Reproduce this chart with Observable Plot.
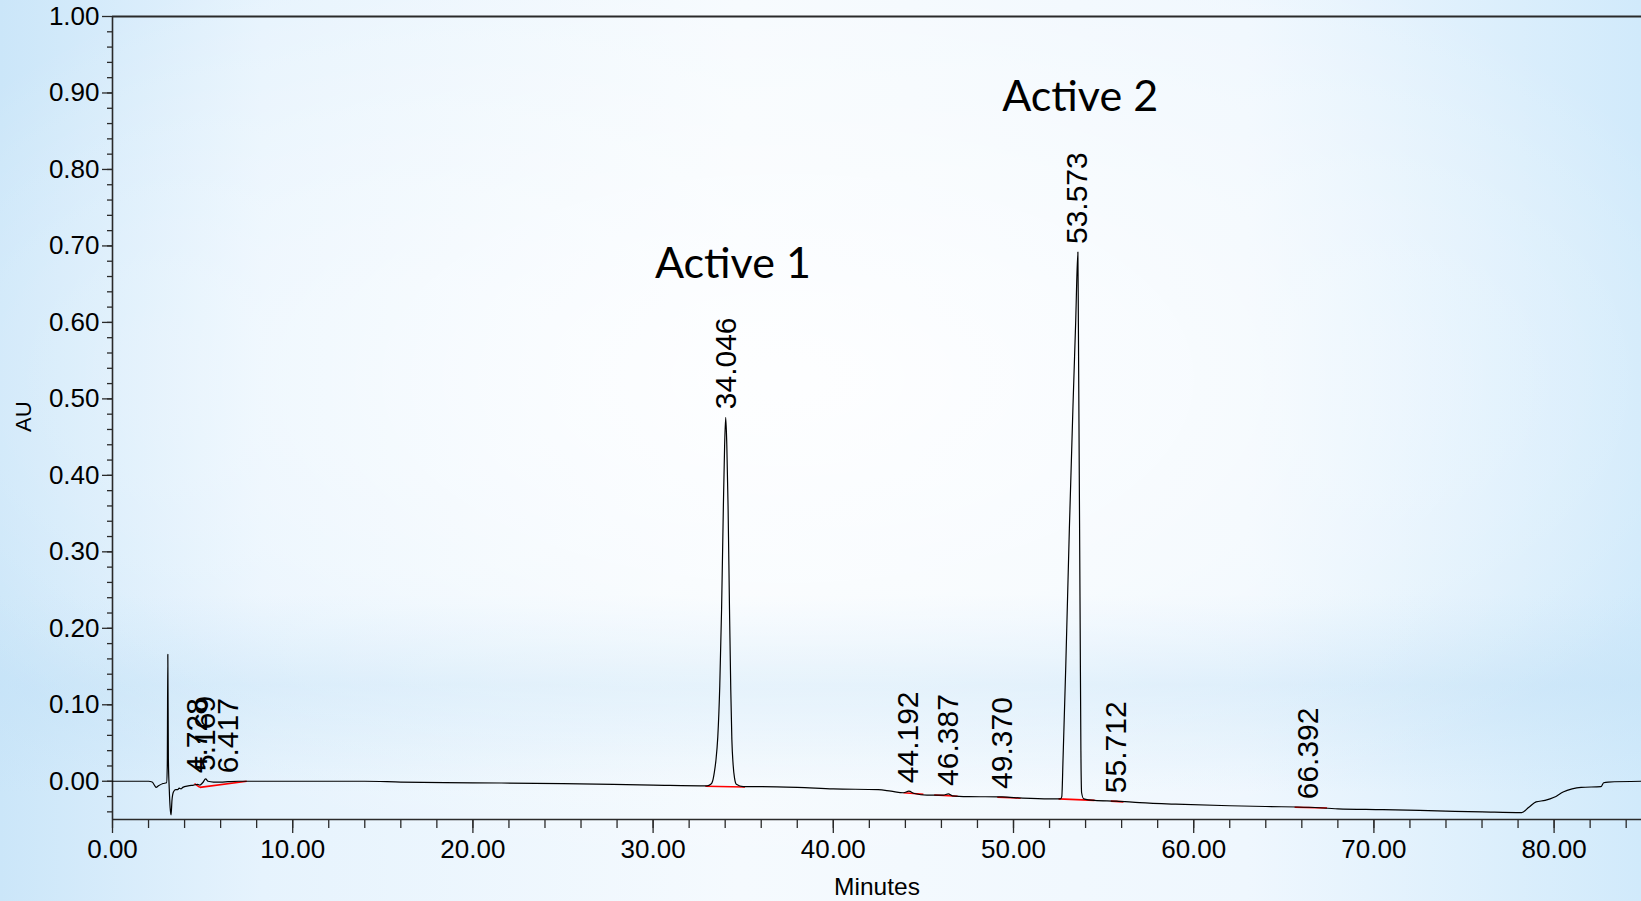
<!DOCTYPE html>
<html>
<head>
<meta charset="utf-8">
<script src="https://cdn.jsdelivr.net/npm/d3@7"></script>
<script src="https://cdn.jsdelivr.net/npm/@observablehq/plot@0.6"></script>
<style>
  html, body { margin: 0; padding: 0; }
  body {
    width: 1641px; height: 901px; overflow: hidden;
    background:
      radial-gradient(ellipse 60% 55% at 48% 42%, rgba(255,255,255,0.85) 0%, rgba(255,255,255,0) 100%),
      linear-gradient(to bottom, rgba(255,255,255,0) 66%, rgba(196,226,247,0.55) 76%, rgba(255,255,255,0) 88%),
      linear-gradient(to right, #cbe6f9 0%, #e6f3fd 16%, #f5fafe 45%, #eff7fe 76%, #d1eafb 100%);
  }
  #chart svg { display: block; }
</style>
</head>
<body>
<div id="chart"></div>
<script>
// ---- Data ----
const traceTime = [0.0, 1.0, 2.0, 2.2, 2.35, 2.42, 2.55, 2.8, 3.0, 3.04, 3.07, 3.10, 3.15, 3.2, 3.25, 3.3, 3.38, 3.5, 3.62, 3.7, 3.8, 3.9, 4.2, 4.5, 4.728, 4.85, 5.0, 5.17, 5.3, 5.6, 6.0, 6.417, 7.0, 8.0, 10.0, 12.0, 14.0, 16.0, 20.0, 25.0, 30.0, 33.0, 33.2, 33.3, 33.4, 33.48, 33.59, 33.7, 33.8, 33.9, 33.97, 34.03, 34.09, 34.16, 34.24, 34.31, 34.37, 34.44, 34.52, 34.62, 35.0, 36.0, 38.0, 40.0, 42.5, 43.2, 43.9, 44.192, 44.5, 45.2, 46.1, 46.387, 46.6, 47.5, 49.37, 50.5, 52.0, 52.6, 52.68, 52.75, 52.9, 53.1, 53.3, 53.45, 53.573, 53.6, 53.65, 53.7, 53.74, 53.78, 53.9, 54.5, 55.712, 57.0, 59.0, 62.0, 64.0, 66.392, 68.0, 70.5, 74.0, 76.0, 78.2, 78.6, 79.0, 79.5, 80.0, 80.5, 81.0, 81.5, 82.6, 82.75, 83.0, 84.85];
const traceAU   = [0.000, 0.000, 0.000, -0.001, -0.006, -0.008, -0.006, -0.003, -0.002, 0.02, 0.166, 0.03, -0.01, -0.035, -0.044, -0.025, -0.014, -0.011, -0.011, -0.009, -0.010, -0.008, -0.006, -0.005, -0.004, -0.005, -0.002, 0.003, 0.000, -0.001, -0.001, -0.0005, 0.000, 0.000, 0.000, 0.000, 0.000, -0.001, -0.002, -0.003, -0.005, -0.006, -0.004, 0.000, 0.012, 0.026, 0.058, 0.125, 0.225, 0.36, 0.44, 0.476, 0.44, 0.36, 0.225, 0.12, 0.055, 0.022, 0.004, -0.004, -0.007, -0.007, -0.008, -0.010, -0.011, -0.013, -0.015, -0.013, -0.016, -0.018, -0.018, -0.0165, -0.019, -0.020, -0.0205, -0.022, -0.023, -0.023, -0.020, 0.03, 0.15, 0.33, 0.49, 0.60, 0.692, 0.60, 0.40, 0.20, 0.04, -0.015, -0.023, -0.025, -0.026, -0.028, -0.030, -0.032, -0.033, -0.034, -0.036, -0.037, -0.039, -0.040, -0.041, -0.034, -0.027, -0.025, -0.021, -0.014, -0.010, -0.008, -0.007, -0.002, -0.001, 0.000];

// integration baselines (red): start time, start AU, end time, end AU
const baseStartTime = [4.55, 4.85, 32.9, 43.9, 45.6, 49.1, 52.5, 55.4, 65.6];
const baseStartAU   = [-0.003, -0.008, -0.0065, -0.015, -0.018, -0.021, -0.023, -0.026, -0.034];
const baseEndTime   = [4.85, 7.45, 35.1, 45.0, 46.9, 50.4, 54.5, 56.1, 67.4];
const baseEndAU     = [-0.008, 0.000, -0.0075, -0.017, -0.0195, -0.022, -0.025, -0.027, -0.035];

// peak retention-time labels
const peakTimes  = [4.728, 5.169, 6.417, 34.046, 44.192, 46.387, 49.370, 53.573, 55.712, 66.392];
const peakApexAU = [0.000, 0.003, 0.000, 0.476, -0.013, -0.0165, -0.0205, 0.692, -0.026, -0.034];
const peakLabels = ["4.728", "5.169", "6.417", "34.046", "44.192", "46.387", "49.370", "53.573", "55.712", "66.392"];

// annotations
const noteText = ["Active 1", "Active 2"];
const noteTime = [34.43, 53.7];
const noteAU   = [0.658, 0.877];

// axes
const xDomain = [0, 84.85];
const yDomain = [-0.05, 1.0];
const xMajorTicks = [0, 10, 20, 30, 40, 50, 60, 70, 80];
const xMinorTicks = d3.range(0, 85, 2);
const yMajorTicks = [0, 0.1, 0.2, 0.3, 0.4, 0.5, 0.6, 0.7, 0.8, 0.9, 1.0];
const yMinorTicks = d3.range(-0.04, 1.0, 0.02).map(v => +v.toFixed(2));
const xLabel = "Minutes";
const yLabel = "AU";

// ---- Build tables ----
const trace = traceTime.map((t, i) => ({t, v: traceAU[i]}));
const bases = baseStartTime.map((t, i) => ({x1: t, y1: baseStartAU[i], x2: baseEndTime[i], y2: baseEndAU[i]}));
const peaks = peakTimes.map((t, i) => ({t, v: peakApexAU[i], label: peakLabels[i]}));
const notes = noteText.map((s, i) => ({s, t: noteTime[i], v: noteAU[i]}));

const axisColor = "#2a2a2a";

const chart = Plot.plot({
  width: 1641,
  height: 901,
  marginTop: 16,
  marginBottom: 82,
  marginLeft: 112,
  marginRight: 0,
  style: {background: "transparent", fontFamily: "'Liberation Sans', Arial, sans-serif", fontSize: "26px", color: "#000", overflow: "visible"},
  x: {domain: xDomain},
  y: {domain: yDomain},
  marks: [
    Plot.axisY({ticks: yMinorTicks, tickSize: 5, tickFormat: () => "", label: null, stroke: axisColor, strokeWidth: 1.3}),
    Plot.axisY({ticks: yMajorTicks, tickSize: 10, tickPadding: 3, tickFormat: d => d.toFixed(2), label: null, stroke: axisColor, strokeWidth: 1.3, fill: "#000"}),
    Plot.axisX({ticks: xMinorTicks, tickSize: 9, tickFormat: () => "", label: null, stroke: axisColor, strokeWidth: 1.3}),
    Plot.axisX({ticks: xMajorTicks, tickSize: 14, tickPadding: 6, tickFormat: d => d.toFixed(2), label: null, stroke: axisColor, strokeWidth: 1.3, fill: "#000"}),
    Plot.ruleX([0], {stroke: axisColor, strokeWidth: 1.6}),
    Plot.ruleY([yDomain[0]], {stroke: axisColor, strokeWidth: 1.6}),
    Plot.ruleY([yDomain[1]], {stroke: axisColor, strokeWidth: 1.8}),
    Plot.link(bases, {x1: "x1", y1: "y1", x2: "x2", y2: "y2", stroke: "#ff0000", strokeWidth: 1.6}),
    Plot.line(trace, {x: "t", y: "v", stroke: "#000", strokeWidth: 1.2, curve: "monotone-x"}),
    Plot.text(peaks, {x: "t", y: "v", text: "label", rotate: -90, textAnchor: "start", dy: -8, fontSize: 30, fill: "#000"}),
    Plot.text(notes, {x: "t", y: "v", text: "s", lineAnchor: "bottom", fontSize: 43, fontFamily: "Lato, 'Open Sans', sans-serif", fill: "#000"}),
    Plot.text([yLabel], {frameAnchor: "left", dx: -89, dy: 14, rotate: -90, fontSize: 22, fill: "#000"}),
    Plot.text([xLabel], {frameAnchor: "bottom", dy: 75, fontSize: 24.5, fill: "#000"})
  ]
});
document.getElementById("chart").appendChild(chart);
</script>
</body>
</html>
